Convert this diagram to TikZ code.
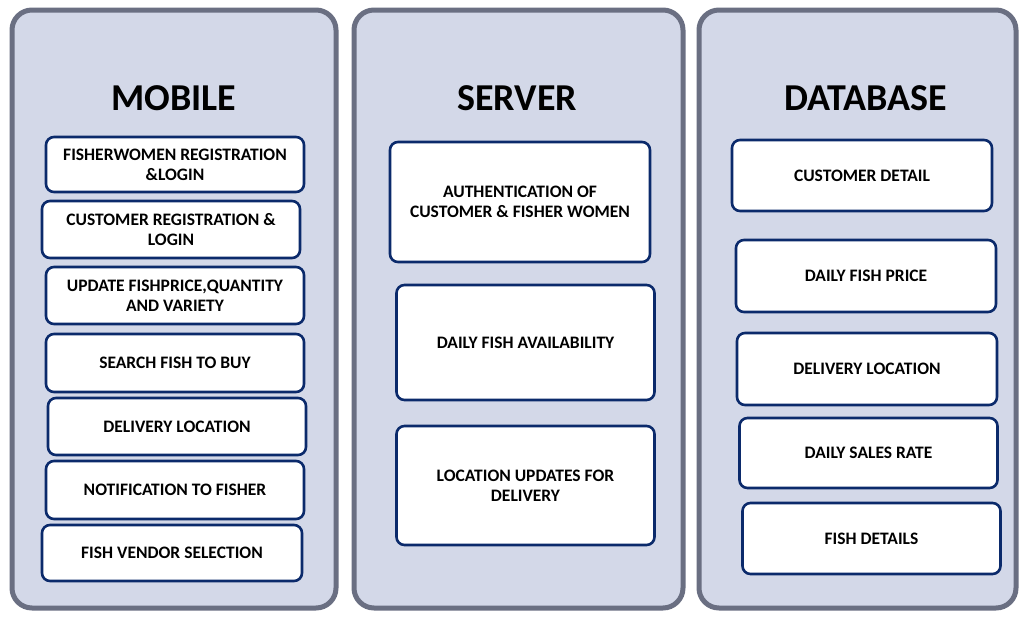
\documentclass[tikz,border=0pt]{standalone}
\usepackage{fontspec}
\setmainfont{Carlito}
\usepackage{tikz}
\usetikzlibrary{positioning}
\definecolor{panelfill}{HTML}{D3D8E8}
\definecolor{paneledge}{HTML}{6A6F82}
\definecolor{boxedge}{HTML}{0B2A6B}

\begin{document}
\begin{tikzpicture}[x=1pt, y=-1pt,
    panel/.style={rectangle, draw=paneledge, line width=5pt, fill=panelfill, rounded corners=20pt,
                  minimum width=#1, minimum height=598pt, inner sep=0pt},
    title/.style={font=\fontsize{38}{42}\selectfont\bfseries},
    item/.style={rectangle, draw=boxedge, line width=2.6pt, fill=white, rounded corners=8pt,
                 minimum width=258pt, minimum height=#1, align=center, inner sep=2pt,
                 font=\fontsize{17.5}{20}\selectfont\bfseries}
]
\useasboundingbox (0,0) rectangle (1023,619);

\node[panel=324pt] (mobile) at (174,309) {};
\node[panel=329pt] (server) at (518.5,309) {};
\node[panel=317pt] (database) at (857.5,309) {};

\node[title] (mobiletitle) at (174,98) {MOBILE};
\node[title] (servertitle) at (517,98) {SERVER};
\node[title] (dbtitle) at (866,98) {DATABASE};

% mobile
\node[item=55pt] (reg) at (175,164.5) {FISHERWOMEN REGISTRATION\\\&LOGIN};
\node[item=57pt] (custreg) at (171,229.5) {CUSTOMER REGISTRATION \&\\LOGIN};
\node[item=57pt] (update) at (175,295.5) {UPDATE FISHPRICE,QUANTITY\\AND VARIETY};
\node[item=58pt] (search) at (175,363) {SEARCH FISH TO BUY};
\node[item=57pt] (deliv) at (177,426.5) {DELIVERY LOCATION};
\node[item=58pt] (notify) at (175,490) {NOTIFICATION TO FISHER};
\node[item=56pt, minimum width=260pt] (vendor) at (172,553) {FISH VENDOR SELECTION};

% server
\node[item=120pt, minimum width=260pt] (auth) at (520,202) {AUTHENTICATION OF\\CUSTOMER \& FISHER WOMEN};
\node[item=115pt] (avail) at (525.5,342.5) {DAILY FISH AVAILABILITY};
\node[item=119pt] (locupd) at (525.5,485.5) {LOCATION UPDATES FOR\\DELIVERY};

% database
\node[item=71pt, minimum width=260pt] (custdet) at (862,175.5) {CUSTOMER DETAIL};
\node[item=72pt, minimum width=260pt] (price) at (866,276) {DAILY FISH PRICE};
\node[item=72pt, minimum width=260pt] (dbloc) at (867,369) {DELIVERY LOCATION};
\node[item=70pt] (sales) at (868.5,453) {DAILY SALES RATE};
\node[item=71pt] (fishdet) at (871.5,538.5) {FISH DETAILS};
\end{tikzpicture}
\end{document}
